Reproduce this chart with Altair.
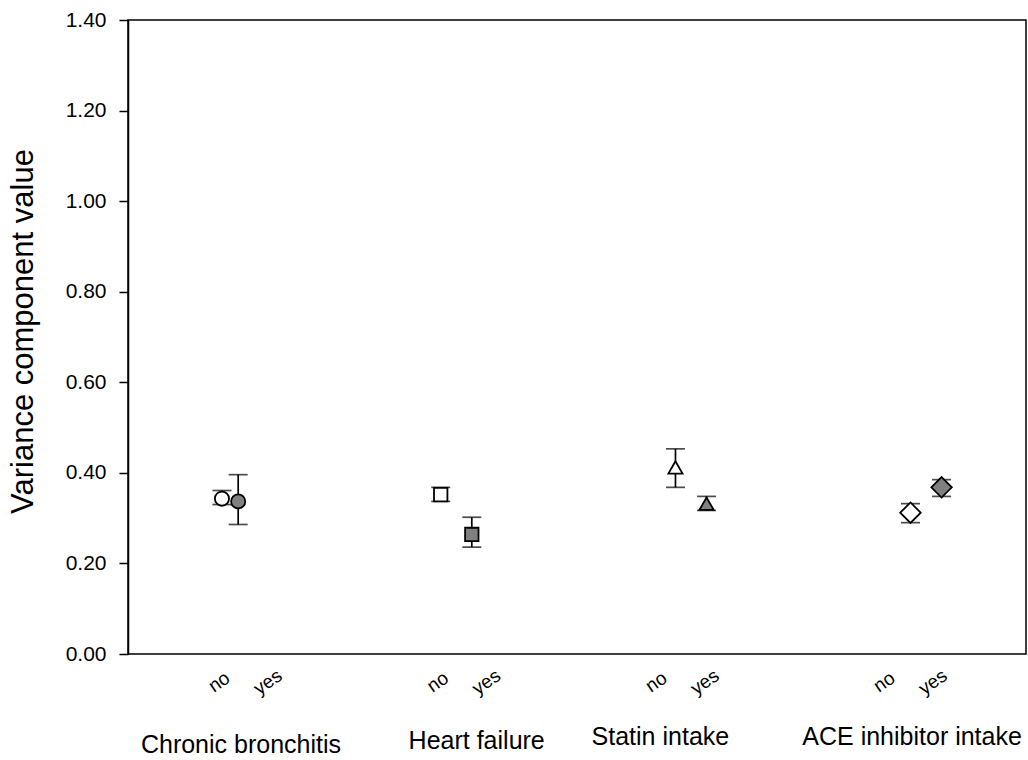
import altair as alt
import pandas as pd

# Condition groups and the two levels within each group
groups = ["Chronic bronchitis", "Heart failure", "Statin intake", "ACE inhibitor intake"]
levels = ["no", "yes"]

# Variance component estimates with their lower / upper error limits,
# ordered group by group: (no, yes)
estimate = [0.343, 0.337, 0.352, 0.264, 0.412, 0.332, 0.312, 0.368]
lower = [0.330, 0.286, 0.337, 0.236, 0.368, 0.317, 0.290, 0.348]
upper = [0.361, 0.396, 0.368, 0.302, 0.453, 0.348, 0.332, 0.385]

y_ticks = [0.0, 0.2, 0.4, 0.6, 0.8, 1.0, 1.2, 1.4]

FONT = "Liberation Sans"
W, H = 898, 634

# Layout tweaks, in group-index units (one unit ~ 232 px)
point_spread = {"Chronic bronchitis": 0.035}           # default 0.067
point_nudge = {"Heart failure": -0.025, "Statin intake": -0.013}
level_label_nudge = {"Chronic bronchitis": 0.058, "Heart failure": 0.0,
                     "Statin intake": -0.058, "ACE inhibitor intake": -0.075}
group_label_nudge = {"Chronic bronchitis": 0.047, "Heart failure": 0.063,
                     "Statin intake": -0.145, "ACE inhibitor intake": -0.06}
# vertical pixel position (from plot top) of each group label
group_label_y = {"Chronic bronchitis": H + 91, "Heart failure": H + 87,
                 "Statin intake": H + 83, "ACE inhibitor intake": H + 83}

rows = []
for gi, g in enumerate(groups):
    spread = point_spread.get(g, 0.067)
    for li, lv in enumerate(levels):
        k = gi * 2 + li
        sign = -1 if lv == "no" else 1
        rows.append({
            "group": g, "level": lv,
            "pos": gi + point_nudge.get(g, 0.0) + sign * spread,
            "label_pos": gi + level_label_nudge[g] + sign * 0.105,
            "estimate": estimate[k], "lower": lower[k], "upper": upper[k],
        })
df = pd.DataFrame(rows)
group_df = pd.DataFrame({
    "group": groups,
    "pos": [i + group_label_nudge[g] for i, g in enumerate(groups)],
    "ly": [group_label_y[g] for g in groups],
})

x_scale = alt.Scale(domain=[-0.44, 3.431], nice=False, zero=False)
y_scale = alt.Scale(domain=[0, 1.4], nice=False, zero=True)

y_axis = alt.Axis(
    values=y_ticks, format=".2f", grid=False,
    title="Variance component value",
    titleFontSize=31, titleFontWeight="normal", titleColor="black",
    titleAngle=270, titleX=-105, titleY=H / 2 - 6,
    titleAlign="center", titleBaseline="middle",
    labelFontSize=21, labelColor="black", labelPadding=13,
    tickSize=9, tickWidth=1.5, tickColor="black",
    domainColor="black", domainWidth=1.5,
)

base = alt.Chart(df).encode(x=alt.X("pos:Q", scale=x_scale, axis=None))

whiskers = base.mark_rule(color="black", strokeWidth=1.7).encode(
    y=alt.Y("lower:Q", scale=y_scale, axis=y_axis),
    y2="upper:Q",
)
cap_low = base.mark_tick(orient="horizontal", size=19, thickness=1.7, color="black").encode(
    y=alt.Y("lower:Q", scale=y_scale)
)
cap_high = base.mark_tick(orient="horizontal", size=19, thickness=1.7, color="black").encode(
    y=alt.Y("upper:Q", scale=y_scale)
)

markers = base.mark_point(
    filled=True, stroke="black", strokeWidth=1.8, opacity=1, fillOpacity=1, strokeOpacity=1
).encode(
    y=alt.Y("estimate:Q", scale=y_scale),
    shape=alt.Shape("group:N", scale=alt.Scale(
        domain=groups, range=["circle", "square", "triangle-up", "diamond"]), legend=None),
    size=alt.Size("group:N", scale=alt.Scale(
        type="ordinal", domain=groups, range=[200, 180, 200, 420]), legend=None),
    fill=alt.Fill("level:N", scale=alt.Scale(
        domain=levels, range=["white", "#808080"]), legend=None),
)

level_text = alt.Chart(df).mark_text(
    font=FONT, fontSize=19, angle=325, align="center", baseline="middle", color="black"
).encode(
    x=alt.X("label_pos:Q", scale=x_scale, axis=None),
    y=alt.value(H + 28),
    text="level:N",
)

group_text = alt.Chart(group_df).mark_text(
    font=FONT, fontSize=25, align="center", baseline="middle", color="black"
).encode(
    x=alt.X("pos:Q", scale=x_scale, axis=None),
    y=alt.Y("ly:Q", scale=None),
    text="group:N",
)

chart = alt.layer(whiskers, cap_low, cap_high, markers, level_text, group_text).properties(
    width=W, height=H,
    autosize=alt.AutoSizeParams(type="none"),
    padding={"left": 128, "top": 20, "right": 2, "bottom": 106},
    background="white",
).configure(font=FONT).configure_view(
    stroke="black", strokeWidth=1.5
).configure_axis(labelFont=FONT, titleFont=FONT)

chart.save("out.html", embed_options={"renderer": "svg", "actions": False})
